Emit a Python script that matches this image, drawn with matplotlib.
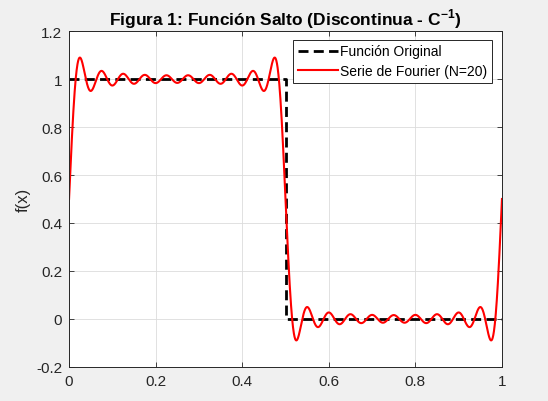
import numpy as np
import matplotlib
matplotlib.use('Agg')
import matplotlib.pyplot as plt

plt.rcParams['font.family'] = ['Liberation Sans', 'DejaVu Sans']
plt.rcParams['mathtext.fontset'] = 'custom'
plt.rcParams['mathtext.rm'] = 'Liberation Sans'
plt.rcParams['mathtext.bf'] = 'Liberation Sans:bold'
plt.rcParams['axes.unicode_minus'] = False

# original step function (jump at x = 0.5)
x_step = [0, 0.5, 0.5, 1]
y_step = [1, 1, 0, 0]

# Fourier series, N=20 harmonics (only odd ones are non-zero)
N = 20
a0 = 0.5
harmonics = np.arange(1, N + 1)
b = np.where(harmonics % 2 == 1, 2 / (np.pi * harmonics), 0.0)

x = np.linspace(0, 1, 2000)
y = a0 + np.sum(b[:, None] * np.sin(2 * np.pi * harmonics[:, None] * x[None, :]), axis=0)

xticks = [0, 0.2, 0.4, 0.6, 0.8, 1]
yticks = [-0.2, 0, 0.2, 0.4, 0.6, 0.8, 1, 1.2]

fig = plt.figure(figsize=(5.48, 4.02), dpi=100, facecolor='#f0f0f0')
ax = fig.add_axes([0.126, 0.085, 0.790, 0.835])

ax.plot(x_step, y_step, color='k', linestyle=(0, (3.6, 1.9)), linewidth=2, label='Función Original')
ax.plot(x, y, color='#ff0000', linewidth=1.5, label='Serie de Fourier (N=20)')

ax.set_xlim(0, 1)
ax.set_ylim(-0.2, 1.2)
ax.set_xticks(xticks)
ax.set_xticklabels(['0', '0.2', '0.4', '0.6', '0.8', '1'])
ax.set_yticks(yticks)
ax.set_yticklabels(['-0.2', '0', '0.2', '0.4', '0.6', '0.8', '1', '1.2'])
ax.grid(True, color='#dcdcdc', linewidth=0.6)
ax.set_axisbelow(True)
ax.tick_params(direction='in', top=True, right=True, length=3.5, width=0.6,
               colors='#262626', labelsize=11, pad=5)
for s in ax.spines.values():
    s.set_color('#262626')
    s.set_linewidth(0.7)

ax.set_title(r'Figura 1: Función Salto (Discontinua - C$^{\mathbf{-1}}$)',
             fontsize=12.5, fontweight='bold', color='#000000', pad=5)
ax.set_ylabel('f(x)', fontsize=12, color='#262626', labelpad=4)

leg = ax.legend(loc='upper right', bbox_to_anchor=(0.977, 0.975), borderaxespad=0,
                fancybox=False, framealpha=1, edgecolor='#262626', fontsize=10,
                handlelength=2.9, handletextpad=0.15, labelspacing=0.4,
                borderpad=0.35)
leg.get_frame().set_linewidth(0.7)

fig.savefig('out.png', dpi=100, facecolor=fig.get_facecolor())
